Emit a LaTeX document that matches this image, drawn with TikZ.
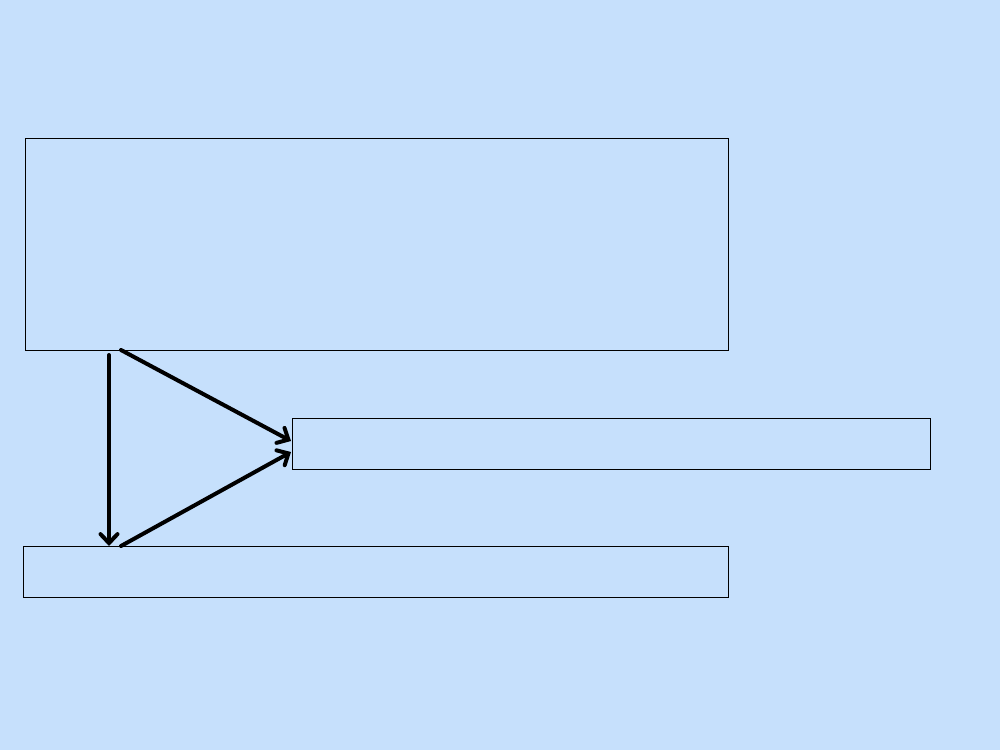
\documentclass[tikz,border=0pt]{standalone}
\usetikzlibrary{arrows.meta,calc}
\definecolor{bgblue}{RGB}{198,224,252}
\begin{document}
\begin{tikzpicture}[x=1pt,y=-1pt,
  box/.style={draw=black,line width=0.8pt,fill=bgblue,minimum width=#1,inner sep=0pt,outer sep=0pt,anchor=north west},
  flow/.style={line width=4pt,line cap=round,-{Straight Barb[length=9pt,width=17pt,line cap=round]}}]
\fill[bgblue] (0,0) rectangle (1000,750);
\useasboundingbox (0,0) rectangle (1000,750);
\node[box=703pt,minimum height=212pt] (A) at (25,138) {};
\node[box=638pt,minimum height=51pt] (B) at (292,418) {};
\node[box=705pt,minimum height=51pt] (C) at (23,546) {};
\coordinate (a1) at ($(A.south west)+(84,5)$);
\coordinate (a2) at ($(A.south west)+(96,0)$);
\coordinate (b1) at ($(B.north west)+(-1,23)$);
\coordinate (b2) at ($(B.north west)+(-1,34)$);
\coordinate (c1) at ($(C.north west)+(86,0)$);
\coordinate (c2) at ($(C.north west)+(98,0)$);
\draw[flow] (a1) -- (c1);
\draw[flow] (a2) -- (b1);
\draw[flow] (c2) -- (b2);
\end{tikzpicture}
\end{document}
